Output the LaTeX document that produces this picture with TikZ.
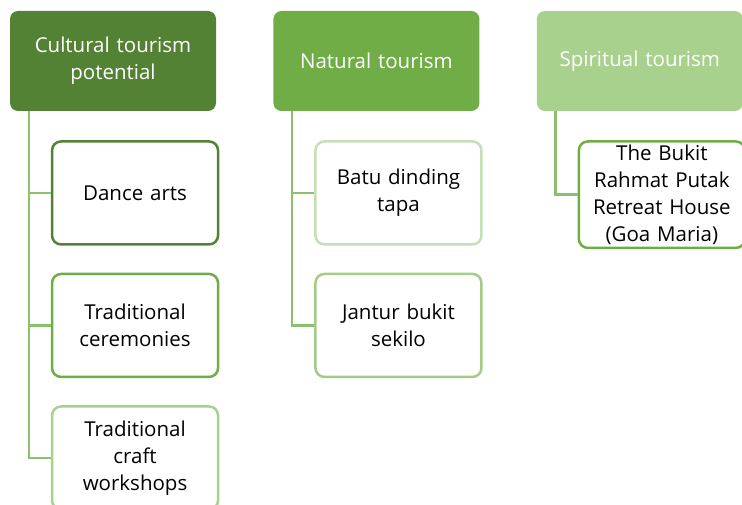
\documentclass[tikz,border=0pt]{standalone}
\usepackage{fontspec}
\setmainfont{Open Sans}
\usetikzlibrary{positioning}
\definecolor{gdark}{HTML}{548235}
\definecolor{gmid}{HTML}{70AD47}
\definecolor{glight}{HTML}{A9D18E}
\definecolor{gpale}{HTML}{C5E0B4}
\definecolor{gline}{HTML}{8DC06C}
\tikzset{
  head/.style={rounded corners=8pt,minimum width=206pt,minimum height=100pt,
    text width=195pt,align=center,text=white,font=\fontsize{20.5}{27}\selectfont},
  item/.style={draw,line width=2.5pt,rounded corners=9pt,fill=white,
    minimum width=166pt,minimum height=103pt,text width=155pt,align=center,
    font=\fontsize{20.5}{27}\selectfont},
  conn/.style={draw=gline,line width=2.5pt}
}
\begin{document}
\begin{tikzpicture}[x=1pt,y=1pt]
\clip (0,0) rectangle (742,-505);
\useasboundingbox (0,0) rectangle (742,-505);

% headers
\node[head,fill=gdark] (cult) at (113,-61) {Cultural tourism\\potential};
\node[head,fill=gmid,right=57pt of cult] (nat) {Natural tourism};
\node[head,fill=glight,right=57pt of nat] (spir) {Spiritual tourism};

% cultural
\node[item,draw=gdark,anchor=north west] (dance) at ([xshift=41pt,yshift=-29pt]cult.south west) {Dance arts};
\node[item,draw=gmid,below=27pt of dance] (cere) {Traditional\\ceremonies};
\node[item,draw=glight,below=27pt of cere] (craft) {Traditional\\craft\\workshops};

% natural
\node[item,draw=gpale,anchor=north west] (batu) at ([xshift=41pt,yshift=-29pt]nat.south west) {Batu dinding\\tapa};
\node[item,draw=glight!90!gmid,below=27pt of batu] (jantur) {Jantur bukit\\sekilo};

% spiritual
\node[item,draw=gmid,anchor=north west] (bukit) at ([xshift=41pt,yshift=-29pt]spir.south west) {The Bukit\\Rahmat Putak\\Retreat House\\(Goa Maria)};

% connectors
\draw[conn] ([xshift=19pt]cult.south west) |- (dance.west);
\draw[conn] ([xshift=19pt]cult.south west) |- (cere.west);
\draw[conn] ([xshift=19pt]cult.south west) |- (craft.west);
\draw[conn] ([xshift=19pt]nat.south west) |- (batu.west);
\draw[conn] ([xshift=19pt]nat.south west) |- (jantur.west);
\draw[conn] ([xshift=19pt]spir.south west) |- (bukit.west);

\end{tikzpicture}
\end{document}
